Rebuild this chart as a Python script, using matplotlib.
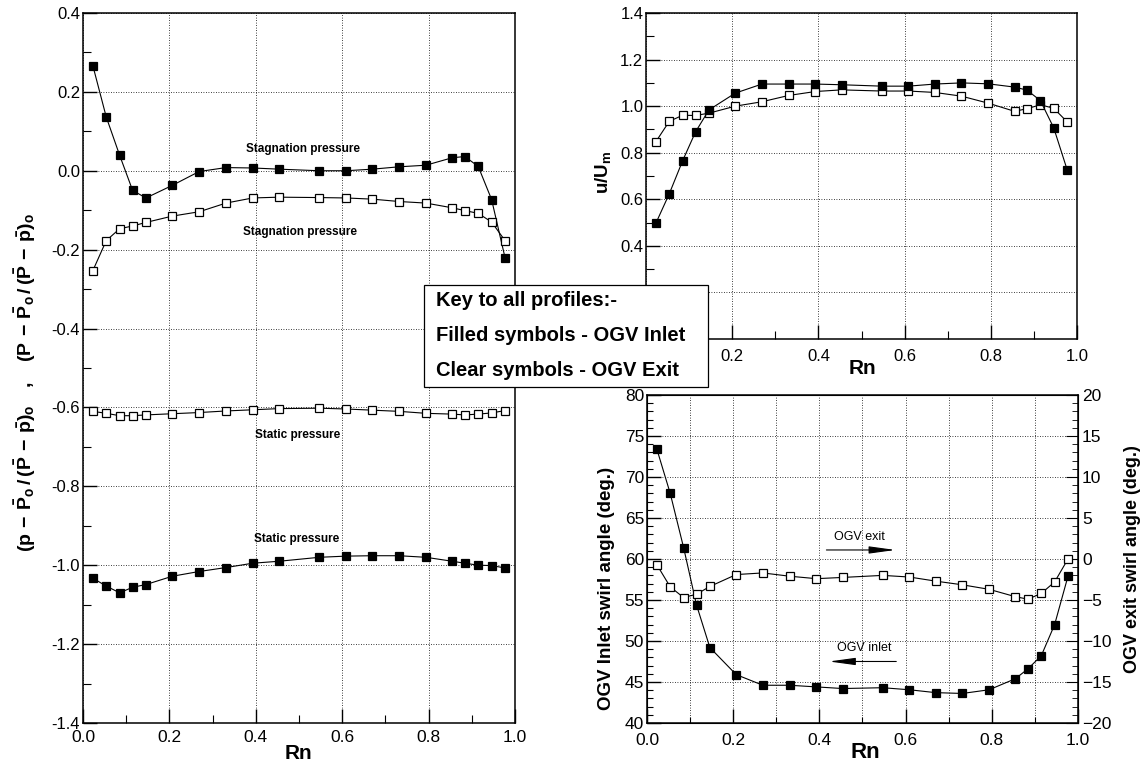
import matplotlib
matplotlib.use('Agg')
import matplotlib.pyplot as plt
import numpy as np
from matplotlib.patches import Rectangle
from matplotlib.ticker import MultipleLocator


plt.rcParams['font.family'] = ['Liberation Sans', 'DejaVu Sans']
plt.rcParams['mathtext.fontset'] = 'custom'
plt.rcParams['mathtext.rm'] = 'Liberation Sans'
plt.rcParams['mathtext.bf'] = 'Liberation Sans:bold'
plt.rcParams['mathtext.it'] = 'Liberation Sans:bold'
plt.rcParams['mathtext.default'] = 'bf'

# radial positions of the traverse points
rn = [0.023, 0.054, 0.085, 0.115, 0.146, 0.207, 0.269, 0.331, 0.393, 0.454,
      0.547, 0.609, 0.670, 0.732, 0.794, 0.855, 0.884, 0.915, 0.946, 0.977]

# pressure profiles
stag_inlet = [0.266, 0.136, 0.039, -0.050, -0.069, -0.037, -0.002, 0.008, 0.007, 0.004,
              0.000, 0.000, 0.004, 0.010, 0.014, 0.033, 0.036, 0.011, -0.073, -0.220]
stag_exit = [-0.253, -0.177, -0.147, -0.140, -0.131, -0.115, -0.104, -0.082, -0.069, -0.067,
             -0.068, -0.069, -0.072, -0.078, -0.082, -0.094, -0.101, -0.108, -0.130, -0.177]
static_exit = [-0.610, -0.615, -0.621, -0.621, -0.619, -0.616, -0.613, -0.609, -0.606, -0.603,
               -0.602, -0.604, -0.607, -0.610, -0.615, -0.617, -0.619, -0.617, -0.614, -0.608]
static_inlet = [-1.033, -1.053, -1.070, -1.056, -1.049, -1.028, -1.016, -1.006, -0.995, -0.990,
                -0.980, -0.977, -0.976, -0.976, -0.980, -0.990, -0.995, -1.000, -1.001, -1.007]

# axial velocity profiles
u_inlet = [0.498, 0.624, 0.766, 0.890, 0.984, 1.056, 1.095, 1.095, 1.095, 1.092,
           1.086, 1.086, 1.095, 1.100, 1.096, 1.082, 1.069, 1.024, 0.907, 0.728]
u_exit = [0.848, 0.935, 0.961, 0.960, 0.970, 1.000, 1.019, 1.046, 1.063, 1.070,
          1.065, 1.065, 1.059, 1.043, 1.013, 0.978, 0.989, 1.006, 0.991, 0.933]

# swirl angle profiles (deg.)
swirl_inlet = [73.4, 68.0, 61.4, 54.4, 49.2, 45.9, 44.6, 44.6, 44.4, 44.2,
               44.3, 44.05, 43.7, 43.6, 44.05, 45.4, 46.6, 48.2, 52.0, 57.9]
swirl_exit = [-0.7, -3.4, -4.7, -4.3, -3.35, -1.9, -1.7, -2.1, -2.4, -2.25,
              -2.0, -2.2, -2.7, -3.15, -3.7, -4.6, -4.9, -4.2, -2.8, 0.0]


def style_axis(ax, xlabel_size=10.5, ylabel_size=10):
    ax.tick_params(which='both', direction='in', top=False, right=False)
    ax.tick_params(which='major', length=10, width=1.0)
    ax.tick_params(which='minor', length=5.5, width=0.8)
    ax.tick_params(axis='x', labelsize=xlabel_size, pad=5)
    ax.tick_params(axis='y', labelsize=ylabel_size, pad=2)
    for s in ax.spines.values():
        s.set_linewidth(1.1)


def plot_series(ax, x, y, filled):
    ax.plot(x, y, color='black', lw=0.8, marker='s', ms=5.5,
            mfc='black' if filled else 'white', mec='black', mew=0.9, zorder=3)


grid_kw = dict(color='black', linestyle=(0, (1, 2)), linewidth=0.6)

fig = plt.figure(figsize=(11.41, 7.67), dpi=100)

# ---- left: pressure coefficients ----
ax1 = fig.add_axes([0.0727, 0.0574, 0.3786, 0.9257])
plot_series(ax1, rn, stag_inlet, True)
plot_series(ax1, rn, stag_exit, False)
plot_series(ax1, rn, static_exit, False)
plot_series(ax1, rn, static_inlet, True)
ax1.set_xlim(0, 1)
ax1.set_ylim(-1.4, 0.4)
ax1.xaxis.set_major_locator(MultipleLocator(0.2))
ax1.xaxis.set_minor_locator(MultipleLocator(0.1))
ax1.yaxis.set_major_locator(MultipleLocator(0.2))
ax1.yaxis.set_minor_locator(MultipleLocator(0.1))
ax1.xaxis.set_major_formatter(lambda v, p: f'{v:.1f}')
ax1.yaxis.set_major_formatter(lambda v, p: f'{v:.1f}')
ax1.grid(True, which='major', **grid_kw)
style_axis(ax1, 12.5, 12)
ax1.set_xlabel('Rn', fontsize=15, fontweight='bold')
ax1.xaxis.set_label_coords(0.498, -0.029)
ax1.set_ylabel(r'$(p\,-\,\bar{P}_o\,/\,(\bar{P}\,-\,\bar{p})_o\quad ,\quad (P\,-\,\bar{P}_o\,/\,(\bar{P}\,-\,\bar{p})_o$',
               fontsize=14)
ax1.yaxis.set_label_coords(-0.104, 0.48)
txt_kw = dict(fontsize=8.5, fontweight='bold', ha='center', va='center')
ax1.text(0.51, 0.055, 'Stagnation pressure', **txt_kw)
ax1.text(0.503, -0.155, 'Stagnation pressure', **txt_kw)
ax1.text(0.497, -0.670, 'Static pressure', **txt_kw)
ax1.text(0.494, -0.933, 'Static pressure', **txt_kw)

# ---- top right: axial velocity ----
ax2 = fig.add_axes([0.5662, 0.558, 0.3777, 0.425])
plot_series(ax2, rn, u_exit, False)
plot_series(ax2, rn, u_inlet, True)
ax2.set_xlim(0, 1)
ax2.set_ylim(0, 1.4)
ax2.xaxis.set_major_locator(MultipleLocator(0.2))
ax2.xaxis.set_minor_locator(MultipleLocator(0.1))
ax2.yaxis.set_major_locator(MultipleLocator(0.2))
ax2.yaxis.set_minor_locator(MultipleLocator(0.1))
# labels near the origin sit under the key box
ax2.xaxis.set_major_formatter(lambda v, p: '' if v < 0.1 else f'{v:.1f}')
ax2.yaxis.set_major_formatter(lambda v, p: '' if v < 0.3 else f'{v:.1f}')
ax2.grid(True, which='major', **grid_kw)
style_axis(ax2, 12, 12)
ax2.tick_params(axis='x', pad=7)
ax2.set_xlabel('Rn', fontsize=15, fontweight='bold')
ax2.xaxis.set_label_coords(0.503, -0.062)
ax2.set_ylabel(r'$u/U_m$', fontsize=13.5)
ax2.yaxis.set_label_coords(-0.077, 0.51)

# ---- bottom right: swirl angles ----
ax3 = fig.add_axes([0.567, 0.0574, 0.3777, 0.4276])
ax3r = ax3.twinx()
plot_series(ax3, rn, swirl_inlet, True)
plot_series(ax3r, rn, swirl_exit, False)
ax3.set_xlim(0, 1)
ax3.set_ylim(40, 80)
ax3r.set_ylim(-20, 20)
ax3.xaxis.set_major_locator(MultipleLocator(0.2))
ax3.xaxis.set_minor_locator(MultipleLocator(0.1))
ax3.yaxis.set_major_locator(MultipleLocator(5))
ax3.yaxis.set_minor_locator(MultipleLocator(1))
ax3r.yaxis.set_major_locator(MultipleLocator(5))
ax3r.yaxis.set_minor_locator(MultipleLocator(1))
ax3.xaxis.set_major_formatter(lambda v, p: f'{v:.1f}')
ax3.grid(True, which='major', axis='y', **grid_kw)
ax3.grid(True, which='both', axis='x', **grid_kw)
style_axis(ax3, 12.5, 12.5)
ax3.tick_params(which='minor', length=4)
ax3.tick_params(axis='x', pad=7)
ax3r.tick_params(which='both', direction='in', labelsize=12.5, pad=3)
ax3r.tick_params(which='major', length=9)
ax3r.tick_params(which='minor', length=4)
ax3.set_xlabel('Rn', fontsize=16, fontweight='bold')
ax3.xaxis.set_label_coords(0.506, -0.058)
ax3.set_ylabel('OGV Inlet swirl angle (deg.)', fontsize=13.5, fontweight='bold')
ax3.yaxis.set_label_coords(-0.074, 0.41)
ax3r.set_ylabel('OGV exit swirl angle (deg.)', fontsize=13, fontweight='bold')
ax3r.yaxis.set_label_coords(1.107, 0.5)
ax3.text(0.492, 62.7, 'OGV exit', fontsize=9, ha='center', va='center')
ax3.annotate('', xy=(0.583, 61.1), xytext=(0.41, 61.1),
             arrowprops=dict(arrowstyle='-|>,head_length=1.6,head_width=0.22', color='black', lw=0.8))
ax3.text(0.505, 49.1, 'OGV inlet', fontsize=9, ha='center', va='center')
ax3.annotate('', xy=(0.416, 47.5), xytext=(0.585, 47.5),
             arrowprops=dict(arrowstyle='-|>,head_length=1.6,head_width=0.22', color='black', lw=0.8))

# ---- key box ----
fig.add_artist(Rectangle((0.3716, 0.4954), 0.2489, 0.133, transform=fig.transFigure,
                         facecolor='white', edgecolor='black', lw=0.9, zorder=10))
key_lines = ['Key to all profiles:-', 'Filled symbols - OGV Inlet', 'Clear symbols - OGV Exit']
for i, line in enumerate(key_lines):
    fig.text(0.382, 1 - (301 + 34.5 * i) / 767, line, fontsize=14.5, fontweight='bold',
             ha='left', va='center', zorder=11)

fig.savefig('out.png', dpi=100)
